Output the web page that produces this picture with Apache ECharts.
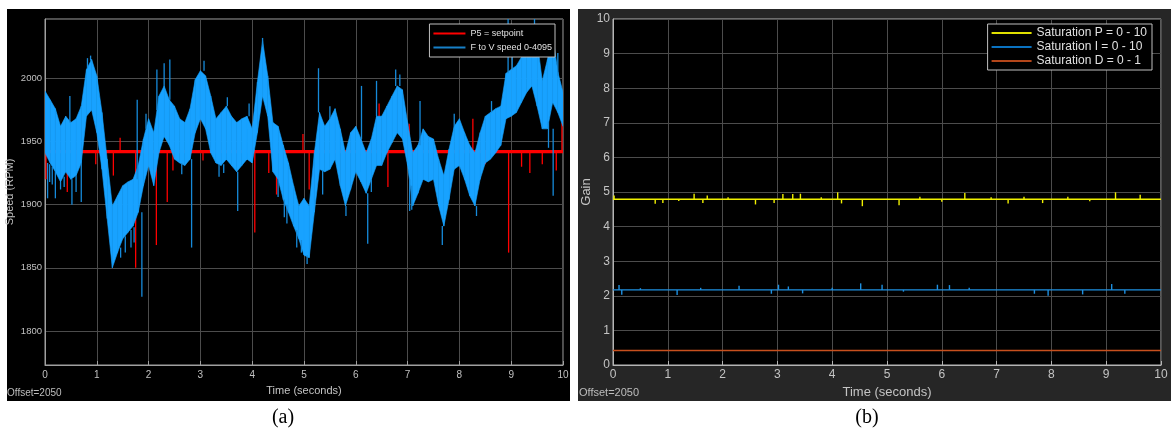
<!DOCTYPE html>
<html lang="en">

<head>
    <meta charset="UTF-8">
    <title>Speed and gain</title>
    <script src="https://cdn.jsdelivr.net/npm/echarts@6.0.0/dist/echarts.min.js"></script>
</head>

<body style="margin:0;background:#fff;">
    <div id="main" style="width: 1171px;height:432px;"></div>

    <script type="text/javascript">
        // time axis ticks (seconds), shared by both panels
        const timeTicks = [0, 1, 2, 3, 4, 5, 6, 7, 8, 9, 10];
        const sampleStep = 0.1;

        // (a) F to V speed: upper / lower edge of the noisy band, one value every 0.1 s
        const speedHigh = [
            1990, 1983, 1976, 1962, 1970, 1965, 1968, 1978, 2007, 2015,
            2002, 1973, 1936, 1899, 1907, 1915, 1918, 1920, 1931, 1952,
            1968, 1957, 1986, 1994, 1983, 1978, 1968, 1965, 1976, 1999,
            2006, 2002, 1986, 1968, 1973, 1978, 1970, 1965, 1968, 1970,
            1960, 1997, 2030, 2002, 1965, 1962, 1947, 1933, 1915, 1899,
            1905, 1899, 1941, 1973, 1962, 1968, 1976, 1960, 1941, 1957,
            1962, 1952, 1941, 1952, 1970, 1970, 1978, 1986, 1994, 1991,
            1965, 1941, 1947, 1960, 1954, 1952, 1936, 1923, 1944, 1962,
            1968, 1957, 1947, 1941, 1957, 1970, 1973, 1976, 1978, 2004,
            2007, 2010, 2017, 2025, 2040, 2030, 1998, 2015, 2035, 2005, 1989
        ];
        const speedLow = [
            1941, 1933, 1926, 1918, 1926, 1920, 1923, 1933, 1970, 1975,
            1957, 1928, 1889, 1850, 1862, 1873, 1878, 1883, 1894, 1915,
            1931, 1915, 1941, 1954, 1947, 1936, 1933, 1931, 1936, 1957,
            1968, 1960, 1941, 1933, 1931, 1936, 1931, 1926, 1931, 1936,
            1933, 1957, 1986, 1970, 1926, 1920, 1904, 1894, 1883, 1873,
            1860, 1858, 1894, 1928, 1926, 1928, 1936, 1915, 1899, 1912,
            1926, 1918, 1909, 1920, 1931, 1931, 1941, 1949, 1957, 1952,
            1931, 1899, 1909, 1920, 1918, 1920, 1899, 1883, 1904, 1928,
            1931, 1920, 1907, 1899, 1920, 1933, 1936, 1941, 1947, 1968,
            1970, 1973, 1981, 1989, 1994, 1978, 1960, 1960, 1981, 1973, 1962
        ];
        // single spikes of the speed trace: [time, from, to]
        const speedSpikes = [
            [0.05, 1933, 1905], [0.2, 1926, 1905], [0.48, 1965, 1986], [0.52, 1920, 1900],
            [0.7, 1933, 1902], [1.78, 1920, 1983], [1.87, 1894, 1827], [2.16, 1975, 2007],
            [2.3, 1994, 2012], [2.41, 1983, 2015], [2.83, 1936, 1866], [3.07, 2006, 2014],
            [3.72, 1926, 1895], [4.2, 2025, 2032], [5.28, 1973, 2008], [6.11, 1952, 1994],
            [6.23, 1909, 1869], [6.4, 1970, 1998], [6.77, 1994, 2007], [7.24, 1947, 1982],
            [7.67, 1883, 1868], [8.94, 2004, 2047], [9.45, 2030, 2047], [9.81, 1960, 1907],
            // short hairs along the band edges
            [0.09, 1932, 1918], [0.14, 1930, 1916], [0.3, 1918, 1912], [0.37, 1922, 1914],
            [0.6, 1923, 1910], [0.82, 2008, 2016], [0.88, 2014, 2018], [1.46, 1866, 1858],
            [1.55, 1875, 1862], [1.66, 1880, 1866], [1.72, 1882, 1870], [1.95, 1960, 1972],
            [2.64, 1933, 1924], [3.36, 1932, 1922], [3.45, 1932, 1925], [3.52, 1978, 1985],
            [3.94, 1970, 1980], [4.5, 1920, 1906], [4.62, 1904, 1890], [4.67, 1900, 1885],
            [4.86, 1880, 1866], [4.95, 1872, 1862], [5.06, 1860, 1853], [5.36, 1927, 1908],
            [5.5, 1968, 1978], [5.81, 1899, 1891], [6.3, 1920, 1910], [6.85, 1994, 2003],
            [7.04, 1920, 1895], [7.08, 1915, 1896], [7.9, 1962, 1972], [8.33, 1899, 1891],
            [8.62, 1973, 1982], [9.02, 2007, 2017], [9.72, 1965, 1945], [9.9, 2002, 2020]
        ];

        // (a) setpoint P5 and its spikes: [time, to]
        const setpoint = 1942;
        const setpointSpikes = [
            [0.02, 1920], [0.43, 1910], [0.6, 1931], [0.98, 1932], [1.1, 1934], [1.32, 1923],
            [1.45, 1953], [1.75, 1850], [2.15, 1868], [2.36, 1902], [2.47, 1927], [3.05, 1935],
            [4.05, 1878], [4.32, 1925], [4.47, 1908], [4.98, 1956], [5.1, 1912], [5.63, 1969],
            [6.45, 1980], [6.62, 1914], [7.03, 1964], [8.26, 1968], [8.5, 1932], [8.95, 1862],
            [9.2, 1930], [9.36, 1925], [9.6, 1932], [9.87, 1927], [9.98, 1965]
        ];

        // (b) gains and their spikes: [time, value]
        const gainP = 4.79;
        const gainI = 2.17;
        const gainD = 0.42;
        const pSpikes = [
            [0.02, 4.9], [0.77, 4.66], [0.91, 4.68], [1.2, 4.74], [1.48, 4.95], [1.64, 4.68],
            [1.72, 4.9], [2.1, 4.85], [2.6, 4.64], [2.94, 4.68], [3.1, 4.94], [3.28, 4.94],
            [3.42, 4.95], [3.8, 4.85], [4.1, 4.99], [4.17, 4.67], [4.55, 4.59], [5.22, 4.62],
            [5.6, 4.86], [6.0, 4.72], [6.42, 4.97], [6.9, 4.85], [7.21, 4.67], [7.5, 4.86],
            [7.84, 4.68], [8.3, 4.86], [8.7, 4.73], [9.17, 4.99], [9.62, 4.92]
        ];
        const iSpikes = [
            [0.11, 2.31], [0.16, 2.03], [0.5, 2.22], [1.17, 2.02], [1.6, 2.23], [2.3, 2.29],
            [2.89, 2.06], [3.02, 2.32], [3.2, 2.27], [3.46, 2.07], [4.0, 2.23], [4.52, 2.36],
            [4.91, 2.32], [5.3, 2.12], [5.92, 2.32], [6.14, 2.31], [6.5, 2.23], [7.69, 2.06],
            [7.94, 2.0], [8.57, 2.04], [9.1, 2.34], [9.34, 2.06]
        ];

        let myChart = echarts.init(document.getElementById('main'));

        const font = 'Liberation Sans, Arial, sans-serif';
        const toTime = (i) => Math.round(i * sampleStep * 100) / 100;
        const plain = (v) => String(v);
        const tMin = timeTicks[0], tMax = timeTicks[timeTicks.length - 1];

        // custom series drawing straight segments [x1, y1, x2, y2]
        function segmentSeries(name, data, color, width, xi) {
            return {
                name: name, type: 'custom', xAxisIndex: xi, yAxisIndex: xi,
                clip: true, silent: true,
                encode: { x: [0, 2], y: [1, 3] },
                itemStyle: { color: color },
                data: data,
                renderItem: (params, api) => {
                    let a = api.coord([api.value(0), api.value(1)]);
                    let b = api.coord([api.value(2), api.value(3)]);
                    return {
                        type: 'line',
                        shape: { x1: a[0], y1: a[1], x2: b[0], y2: b[1] },
                        style: { stroke: color, lineWidth: width }
                    };
                }
            };
        }
        const flat = (v) => [tMin, v, tMax, v];
        const spikesAt = (list, base) => list.map(s => [s[0], base, s[0], s[1]]);

        // panel (a) drawn by one series, in row order (later rows on top):
        // row = [kind, t0, a0, b0, t1, a1, b1]
        // kind 0: thick setpoint, 1: setpoint spike, 2: speed band quad, 3: speed spike
        let speedRows = [[0, tMin, setpoint, setpoint, tMax, setpoint, setpoint]];
        setpointSpikes.forEach(s => speedRows.push([1, s[0], setpoint, setpoint, s[0], s[1], s[1]]));
        for (let i = 0; i < speedHigh.length - 1; i++) {
            speedRows.push([2, toTime(i), speedLow[i], speedHigh[i], toTime(i + 1), speedLow[i + 1], speedHigh[i + 1]]);
        }
        speedSpikes.forEach(s => speedRows.push([3, s[0], s[1], s[1], s[0], s[2], s[2]]));

        const gridLine = { show: true, lineStyle: { color: '#4c4c4c', width: 1 } };

        let options = {
            animation: false,
            backgroundColor: '#ffffff',
            textStyle: { fontFamily: font },
            graphic: [
                { type: 'rect', z: -10, shape: { x: 7, y: 9, width: 563, height: 392 }, style: { fill: '#000' } },
                { type: 'rect', z: -10, shape: { x: 578, y: 9, width: 593, height: 392 }, style: { fill: '#262626' } },
                { type: 'text', x: 7, y: 388, style: { text: 'Offset=2050', fill: '#bdbdbd', font: '10px ' + font } },
                { type: 'text', x: 579, y: 387, style: { text: 'Offset=2050', fill: '#bdbdbd', font: '11px ' + font } },
                { type: 'text', x: 283, y: 418, style: { text: '(a)', fill: '#000', font: '20px Liberation Serif', align: 'center', verticalAlign: 'middle' } },
                { type: 'text', x: 867, y: 418, style: { text: '(b)', fill: '#000', font: '20px Liberation Serif', align: 'center', verticalAlign: 'middle' } }
            ],
            legend: [
                {
                    right: 616, top: 24, orient: 'vertical', z: 20,
                    data: [
                        { name: 'P5 = setpoint', itemStyle: { color: '#ff0000' } },
                        { name: 'F to V speed 0-4095', itemStyle: { color: '#1780c8' } }
                    ],
                    icon: 'rect', itemWidth: 32, itemHeight: 2, itemGap: 5,
                    padding: [5, 3, 5, 4],
                    backgroundColor: '#000', borderColor: '#bfbfbf', borderWidth: 1,
                    textStyle: { color: '#e0e0e0', fontSize: 9, fontFamily: font }
                },
                {
                    right: 19, top: 24, orient: 'vertical', z: 20,
                    data: [
                        { name: 'Saturation P = 0 - 10', itemStyle: { color: '#e0e000' } },
                        { name: 'Saturation I = 0 - 10', itemStyle: { color: '#0a72c0' } },
                        { name: 'Saturation D = 0 - 1', itemStyle: { color: '#b4461a' } }
                    ],
                    icon: 'rect', itemWidth: 40, itemHeight: 2, itemGap: 2,
                    padding: [3, 5, 3, 4],
                    backgroundColor: '#000', borderColor: '#bfbfbf', borderWidth: 1,
                    textStyle: { color: '#e0e0e0', fontSize: 12, fontFamily: font }
                }
            ],
            grid: [
                { left: 45, top: 19, width: 518, height: 346, show: true, backgroundColor: '#000', borderColor: '#a0a0a0', borderWidth: 1 },
                { left: 613, top: 19, width: 548, height: 346, show: true, backgroundColor: '#000', borderColor: '#b4b4b4', borderWidth: 1 }
            ],
            xAxis: [
                {
                    gridIndex: 0, type: 'value', min: tMin, max: tMax, interval: 1,
                    name: 'Time (seconds)', nameLocation: 'middle', nameGap: 20,
                    nameTextStyle: { color: '#c4c4c4', fontSize: 11 },
                    axisLine: { lineStyle: { color: '#a0a0a0' } },
                    axisTick: { inside: true, length: 4, lineStyle: { color: '#a0a0a0' } },
                    axisLabel: { color: '#c0c0c0', fontSize: 10, margin: 5, formatter: plain },
                    splitLine: gridLine
                },
                {
                    gridIndex: 1, type: 'value', min: tMin, max: tMax, interval: 1,
                    name: 'Time (seconds)', nameLocation: 'middle', nameGap: 18,
                    nameTextStyle: { color: '#c4c4c4', fontSize: 13 },
                    axisLine: { lineStyle: { color: '#b4b4b4' } },
                    axisTick: { inside: true, length: 4, lineStyle: { color: '#b4b4b4' } },
                    axisLabel: { color: '#c4c4c4', fontSize: 12, margin: 4, formatter: plain },
                    splitLine: gridLine
                }
            ],
            yAxis: [
                {
                    gridIndex: 0, type: 'value', min: 1773, max: 2047, splitNumber: 5,
                    name: 'Speed (RPM)', nameLocation: 'middle', nameGap: 30,
                    nameTextStyle: { color: '#c4c4c4', fontSize: 11 },
                    axisLine: { show: true, lineStyle: { color: '#a0a0a0' } },
                    axisTick: { show: false },
                    axisLabel: { color: '#c0c0c0', fontSize: 9.5, margin: 3, showMinLabel: false, showMaxLabel: false, formatter: plain },
                    splitLine: gridLine
                },
                {
                    gridIndex: 1, type: 'value', min: 0, max: 10, interval: 1,
                    name: 'Gain', nameLocation: 'middle', nameGap: 17,
                    nameTextStyle: { color: '#c4c4c4', fontSize: 13 },
                    axisLine: { show: true, lineStyle: { color: '#b4b4b4' } },
                    axisTick: { show: false },
                    axisLabel: { color: '#c4c4c4', fontSize: 12, margin: 3, formatter: plain },
                    splitLine: gridLine
                }
            ],
            series: [
                // legend entry only; the setpoint is drawn by the series below, under the band
                { name: 'P5 = setpoint', type: 'line', xAxisIndex: 0, yAxisIndex: 0, data: [], itemStyle: { color: '#ff0000' } },
                {
                    name: 'F to V speed 0-4095', type: 'custom', xAxisIndex: 0, yAxisIndex: 0,
                    clip: true, silent: true,
                    encode: { x: [1, 4], y: [2, 3, 5, 6] },
                    itemStyle: { color: '#18a2ff' },
                    data: speedRows,
                    renderItem: (params, api) => {
                        let kind = api.value(0);
                        if (kind === 2) {
                            let p1 = api.coord([api.value(1), api.value(2)]);
                            let p2 = api.coord([api.value(1), api.value(3)]);
                            let p3 = api.coord([api.value(4), api.value(6)]);
                            let p4 = api.coord([api.value(4), api.value(5)]);
                            return {
                                type: 'polygon',
                                shape: { points: [p1, p2, p3, p4] },
                                style: { fill: '#18a2ff', stroke: '#18a2ff', lineWidth: 0.6 }
                            };
                        }
                        let a = api.coord([api.value(1), api.value(2)]);
                        let b = api.coord([api.value(4), api.value(5)]);
                        let color = kind === 3 ? '#168ada' : '#ff0000';
                        return {
                            type: 'line',
                            shape: { x1: a[0], y1: a[1], x2: b[0], y2: b[1] },
                            style: { stroke: color, lineWidth: kind === 0 ? 3.2 : 1.3 }
                        };
                    }
                },
                // panel (b)
                segmentSeries('Saturation D = 0 - 1', [flat(gainD)], '#c8501e', 1.5, 1),
                segmentSeries('Saturation I = 0 - 10', [flat(gainI)].concat(spikesAt(iSpikes, gainI)), '#1e90e0', 1.4, 1),
                segmentSeries('Saturation P = 0 - 10', [flat(gainP)].concat(spikesAt(pSpikes, gainP)), '#f0f000', 1.4, 1)
            ]
        };

        myChart.setOption(options);
    </script>
</body>

</html>
